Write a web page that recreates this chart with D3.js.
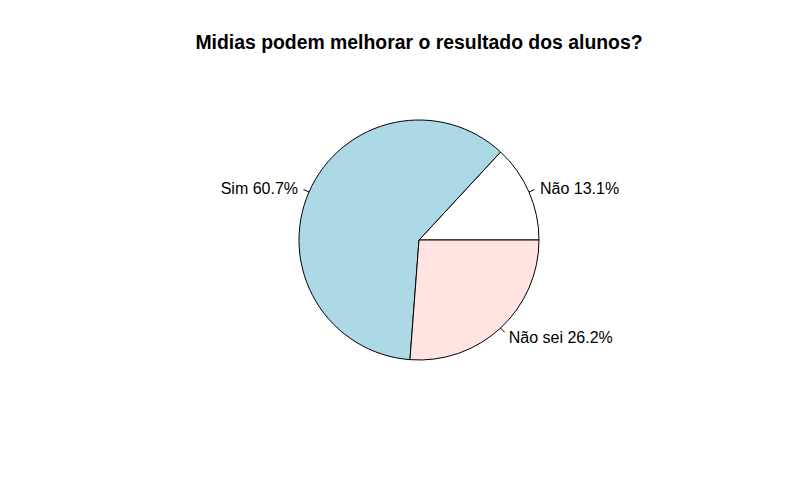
<!DOCTYPE html>
<html lang="pt">
<head>
<meta charset="UTF-8">
<title>pie</title>
<script src="https://d3js.org/d3.v7.min.js"></script>
<style>
  body { margin: 0; background: #fff; }
  text { font-family: "Liberation Sans", Arial, sans-serif; }
</style>
</head>
<body>
<div id="chart"></div>
<script>
const labels = ["Não", "Sim", "Não sei"];
const values = [13.1, 60.7, 26.2];
const colors = ["#ffffff", "#add8e6", "#ffe4e1"];

const width = 800, height = 500;
const cx = 419, cy = 240, radius = 120;

const svg = d3.select("#chart").append("svg")
  .attr("width", width).attr("height", height);

svg.append("text")
  .attr("x", 419).attr("y", 49)
  .attr("text-anchor", "middle")
  .style("font-weight", "bold")
  .style("font-size", "19.4px")
  .text("Midias podem melhorar o resultado dos alunos?");

const data = labels.map((l, i) => ({ label: l, value: values[i], color: colors[i] }));

// R style: start at 3 o'clock, go counter-clockwise
const pie = d3.pie().sort(null).value(d => d.value)
  .startAngle(Math.PI / 2).endAngle(Math.PI / 2 - 2 * Math.PI);

const arc = d3.arc().innerRadius(0).outerRadius(radius);

const g = svg.append("g").attr("transform", `translate(${cx},${cy})`);

const arcs = pie(data);

g.selectAll("path")
  .data(arcs)
  .enter().append("path")
  .attr("d", arc)
  .attr("fill", d => d.data.color)
  .attr("stroke", "black")
  .attr("stroke-width", 1);

// tick marks and labels
arcs.forEach(d => {
  const a = (d.startAngle + d.endAngle) / 2;
  const x = Math.sin(a), y = -Math.cos(a);
  g.append("line")
    .attr("x1", x * radius).attr("y1", y * radius)
    .attr("x2", x * radius * 1.05).attr("y2", y * radius * 1.05)
    .attr("stroke", "black");
  g.append("text")
    .attr("x", x * radius * 1.1).attr("y", y * radius * 1.1 + 1)
    .attr("dy", "0.35em")
    .attr("text-anchor", x > 0 ? "start" : "end")
    .style("font-size", "16px")
    .text(d.data.label + " " + d.data.value.toFixed(1) + "%");
});
</script>
</body>
</html>
